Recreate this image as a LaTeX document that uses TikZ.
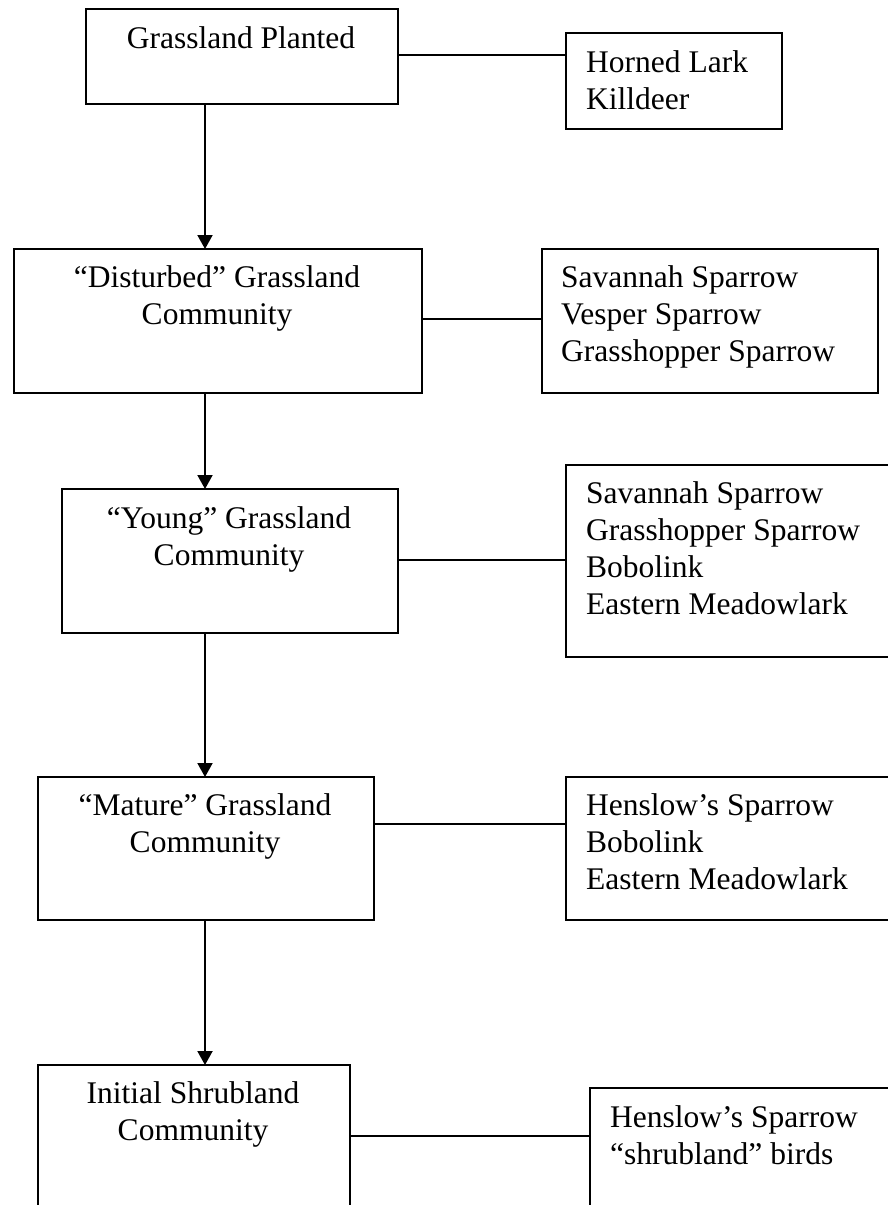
\documentclass[tikz,border=0pt]{standalone}
\usepackage{fontspec}
\setmainfont{Liberation Serif}
\usetikzlibrary{arrows.meta}
\newcommand{\labfont}{\fontsize{31.5}{37}\selectfont}
\begin{document}
\begin{tikzpicture}[x=1pt,y=-1pt,
  box/.style={draw, line width=2pt, inner sep=0pt, anchor=north west},
  ctext/.style={anchor=base, inner sep=0pt, font=\labfont},
  ltext/.style={anchor=base west, inner sep=0pt, font=\labfont},
  link/.style={line width=2pt},
  arr/.style={line width=2pt, -{Triangle[width=15pt,length=14pt]}, shorten >=-1pt}]
\useasboundingbox (0,0) rectangle (888,1205);

% succession stages (left column)
\node[box, minimum width=312pt, minimum height=95pt]  (b1) at (85,8) {};
\node[box, minimum width=408pt, minimum height=144pt] (b2) at (13,248) {};
\node[box, minimum width=336pt, minimum height=144pt] (b3) at (61,488) {};
\node[box, minimum width=336pt, minimum height=143pt] (b4) at (37,776) {};
\node[box, minimum width=312pt, minimum height=220pt] (b5) at (37,1064) {};

\node[ctext] (t1) at (241,48)  {\begin{tabular}[t]{@{}c@{}}Grassland Planted\end{tabular}};
\node[ctext] (t2) at (217,287) {\begin{tabular}[t]{@{}c@{}}“Disturbed” Grassland\\Community\end{tabular}};
\node[ctext] (t3) at (229,528) {\begin{tabular}[t]{@{}c@{}}“Young” Grassland\\Community\end{tabular}};
\node[ctext] (t4) at (205,815) {\begin{tabular}[t]{@{}c@{}}“Mature” Grassland\\Community\end{tabular}};
\node[ctext] (t5) at (193,1103) {\begin{tabular}[t]{@{}c@{}}Initial Shrubland\\Community\end{tabular}};

% bird lists (right column)
\node[box, minimum width=216pt, minimum height=96pt]  (r1) at (565,32) {};
\node[box, minimum width=336pt, minimum height=144pt] (r2) at (541,248) {};
\node[box, minimum width=340pt, minimum height=192pt] (r3) at (565,464) {};
\node[box, minimum width=340pt, minimum height=143pt] (r4) at (565,776) {};
\node[box, minimum width=320pt, minimum height=200pt] (r5) at (589,1087) {};

\node[ltext] (s1) at (586,72)  {\begin{tabular}[t]{@{}l@{}}Horned Lark\\Killdeer\end{tabular}};
\node[ltext] (s2) at (561,287) {\begin{tabular}[t]{@{}l@{}}Savannah Sparrow\\Vesper Sparrow\\Grasshopper Sparrow\end{tabular}};
\node[ltext] (s3) at (586,503) {\begin{tabular}[t]{@{}l@{}}Savannah Sparrow\\Grasshopper Sparrow\\Bobolink\\Eastern Meadowlark\end{tabular}};
\node[ltext] (s4) at (586,815) {\begin{tabular}[t]{@{}l@{}}Henslow’s Sparrow\\Bobolink\\Eastern Meadowlark\end{tabular}};
\node[ltext] (s5) at (610,1127) {\begin{tabular}[t]{@{}l@{}}Henslow’s Sparrow\\“shrubland” birds\end{tabular}};

% vertical spine of the succession arrows
\coordinate (spine) at (205,0);
\draw[arr] (b1.south -| spine) -- (b2.north -| spine);
\draw[arr] (b2.south -| spine) -- (b3.north -| spine);
\draw[arr] (b3.south -| spine) -- (b4.north -| spine);
\draw[arr] (b4.south -| spine) -- (b5.north -| spine);

% horizontal links to the bird lists
\coordinate (h1) at (0,55);
\coordinate (h2) at (0,319);
\coordinate (h3) at (0,560);
\coordinate (h4) at (0,824);
\coordinate (h5) at (0,1136);
\draw[link] (b1.east |- h1) -- (r1.west |- h1);
\draw[link] (b2.east |- h2) -- (r2.west |- h2);
\draw[link] (b3.east |- h3) -- (r3.west |- h3);
\draw[link] (b4.east |- h4) -- (r4.west |- h4);
\draw[link] (b5.east |- h5) -- (r5.west |- h5);
\end{tikzpicture}
\end{document}
